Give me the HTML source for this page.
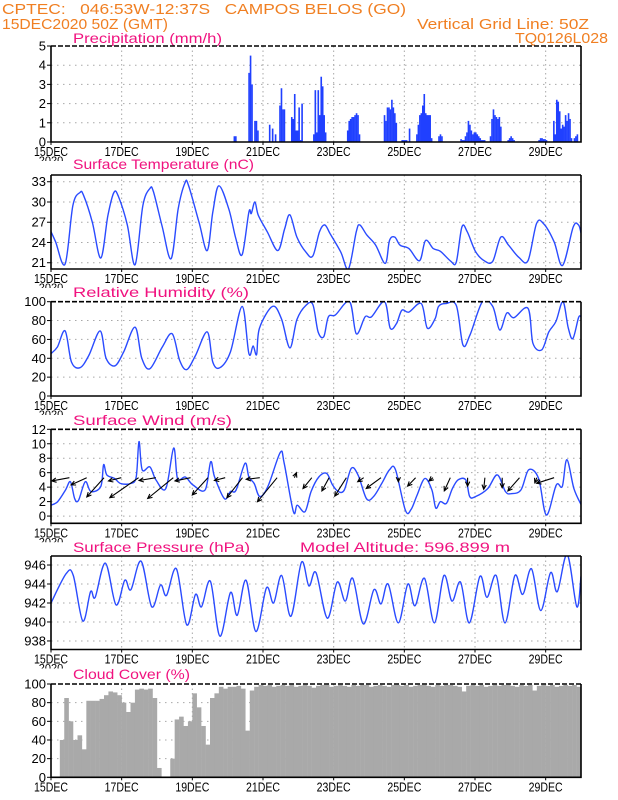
<!DOCTYPE html>
<html><head><meta charset="utf-8"><style>
html,body{margin:0;padding:0;background:#fff;width:618px;height:800px;overflow:hidden}
svg{display:block}
text{font-family:"Liberation Sans",sans-serif}
</style></head><body>
<svg id="chart" width="618" height="800" viewBox="0 0 618 800" xmlns="http://www.w3.org/2000/svg">
<text x="2" y="14" font-size="15" fill="#f07f22" textLength="404" lengthAdjust="spacingAndGlyphs" xml:space="preserve">CPTEC:   046:53W-12:37S   CAMPOS BELOS (GO)</text>
<text x="2" y="29" font-size="15" fill="#f07f22" textLength="166" lengthAdjust="spacingAndGlyphs">15DEC2020 50Z (GMT)</text>
<text x="417" y="29" font-size="15" fill="#f07f22" textLength="172" lengthAdjust="spacingAndGlyphs">Vertical Grid Line: 50Z</text>
<text x="515" y="43" font-size="15" fill="#f07f22" textLength="93" lengthAdjust="spacingAndGlyphs">TQ0126L028</text>
<text x="73" y="43" font-size="14" fill="#f0127f" textLength="149" lengthAdjust="spacingAndGlyphs">Precipitation (mm/h)</text>
<text x="73" y="169" font-size="14" fill="#f0127f" textLength="181" lengthAdjust="spacingAndGlyphs">Surface Temperature (nC)</text>
<text x="73" y="297" font-size="14" fill="#f0127f" textLength="176" lengthAdjust="spacingAndGlyphs">Relative Humidity (%)</text>
<text x="73" y="425" font-size="14" fill="#f0127f" textLength="159" lengthAdjust="spacingAndGlyphs">Surface Wind (m/s)</text>
<text x="73" y="552" font-size="14" fill="#f0127f" textLength="177" lengthAdjust="spacingAndGlyphs">Surface Pressure (hPa)</text>
<text x="300" y="552" font-size="14" fill="#f0127f" textLength="210" lengthAdjust="spacingAndGlyphs">Model Altitude: 596.899 m</text>
<text x="73" y="679" font-size="14" fill="#f0127f" textLength="117" lengthAdjust="spacingAndGlyphs">Cloud Cover (%)</text>
</svg>
<script>
// ---------- DATA ----------
const dateLabels = ["15DEC","17DEC","19DEC","21DEC","23DEC","25DEC","27DEC","29DEC"];
const precipTicks = [0,1,2,3,4,5];
const tempTicks = [21,24,27,30,33];
const rhTicks = [0,20,40,60,80,100];
const windTicks = [0,2,4,6,8,10,12];
const presTicks = [938,940,942,944,946];
const cloudTicks = [0,20,40,60,80,100];

// precipitation: hourly runs (start hour, values)
const precipStart = [124,134,148,155,163,178,201,226,238,243,248,263,278,298,310,331,341];
const precipRuns = [
 [0.3,0.3],
 [3.6,4.5,3.0,0,1.1,1.1,0.6],
 [0.9,0,0.7,0,0.4],
 [1.9,2.8,1.7,1.7],
 [1.3,1.2,2.5,0.6,0.6,1.8,0.1,2.0],
 [0.4,2.7,0.5,2.7,1.4,3.4,2.9,1.4,0.5],
 [0.6,1.1,1.2,1.3,1.3,1.4,1.5,1.4,0.4],
 [1.4,1.1,1.8,1.8,1.7,2.2,1.8,1.5,1.0],
 [0.1,0.1,0.1,0.1],
 [0.7],
 [0.4,0.9,1.4,1.5,1.9,2.5,1.5,1.4,1.4,1.4,0.2],
 [0.3,0.4,0.3],
 [0.15,0.1,0.1,0.3,0.5,1.1,0.9,0.6,0.4,0.5,0.5,0.4,0.3,0.2,0.1,0.1,0.1],
 [0.3,1.2,1.7,1.4,1.3,1.2,1.3,0.8],
 [0.1,0.2,0.3,0.2,0.1],
 [0.1,0.2,0.2,0.15,0.15,0.1],
 [1.1,0.4,2.2,2.1,1.6,0.7,0.9,0.8,1.4,1.1,1.5,1.2,0.2,0,0.2,0.3,0.4]
];

const tempT = [0,0.13,0.4,0.62,0.82,0.92,1.17,1.41,1.61,1.78,1.91,2.16,2.38,2.6,2.8,2.9,3.15,3.4,3.6,3.79,3.89,4.19,4.42,4.58,4.75,5.03,5.23,5.41,5.6,5.67,5.77,5.87,6.12,6.42,6.61,6.76,6.96,7.21,7.41,7.6,7.75,7.9,8.2,8.42,8.64,8.74,8.94,9.19,9.46,9.58,9.73,9.88,10.13,10.43,10.6,10.82,11.02,11.32,11.47,11.63,11.78,12.01,12.26,12.5,12.73,12.95,13.24,13.5,13.74,13.94,14.24,14.48,14.78,14.93,15.0];
const tempV = [25.6,24.1,20.8,29.5,31.4,31.0,27,21.7,28,31.4,30.8,26.6,20.7,29.5,32,31.5,26.3,21.6,29,32.8,32.5,27,22.8,28.5,32.4,29,24.6,22.2,28.5,28.3,30,28,25.6,22.8,26,28.1,24.8,22.6,22,25.6,26.6,25.3,22.6,20.1,25.6,26.6,25.1,23.6,20.9,24.3,24.8,23.6,23.1,21.3,24.3,23.1,22.7,21.2,21.1,26.3,25.6,22.7,21.3,21.2,24.8,23.6,21.8,21.3,26.8,26.8,24.1,20.6,26.3,26.6,25.4];

const rhT = [0,0.18,0.4,0.58,0.82,1.07,1.39,1.56,1.81,2.06,2.38,2.57,2.8,3.15,3.43,3.64,3.84,4.09,4.42,4.58,4.78,5.08,5.41,5.6,5.72,5.82,5.9,6.27,6.52,6.76,6.96,7.21,7.41,7.56,7.72,7.85,8.05,8.45,8.64,8.89,9.07,9.44,9.6,9.78,9.93,10.13,10.48,10.65,10.87,10.97,11.17,11.47,11.66,11.86,12.21,12.5,12.7,12.9,13.1,13.5,13.64,13.89,14.09,14.29,14.49,14.64,14.77,14.93,15.0];
const rhV = [45,52,69,36,30,43,69,40,32,47,73,40,29,52,66,38,28,43,68,36,30,47,95,45,53,44,72,95,82,51,81,96,97,68,63,84,86,100,66,84,84,100,72,77,91,89,98,72,82,95,98,96,54,65,100,95,70,88,83,93,56,49,68,79,100,72,61,83,84];

const windT = [0,0.19,0.41,0.55,0.67,0.78,0.97,1.13,1.41,1.49,1.58,1.8,1.97,2.25,2.41,2.49,2.58,2.8,2.97,3.25,3.47,3.58,3.8,4.02,4.36,4.52,4.63,4.91,5.08,5.24,5.49,5.6,5.75,5.91,6.14,6.49,6.6,6.86,6.97,7.19,7.36,7.58,7.8,7.97,8.13,8.3,8.5,8.69,8.93,9.13,9.36,9.58,9.75,10.03,10.19,10.36,10.58,10.78,10.89,11.02,11.19,11.36,11.52,11.74,11.85,12.02,12.36,12.63,12.86,13.02,13.3,13.52,13.8,14.02,14.3,14.47,14.6,14.8,15.0];
const windV = [1.5,2,3.6,4.75,2.4,2.2,4.75,3.4,4.1,7.1,5.7,5.2,4.5,4.5,5.4,10.3,6.4,6.8,5,3.8,9.4,5.2,5.4,4.3,3.6,7.5,5.4,2.4,3.4,3.6,7.3,5.4,4.5,2.7,4.1,8.8,7.3,0.6,1.5,0.6,3.4,5.4,5.9,4.3,3.4,3.6,6.6,5.7,2.4,2.7,4.5,6.4,6.4,0.8,0.9,2.9,5.2,3.6,1.1,2,1.75,3.8,5,5,2.7,2.7,3.8,5.7,3.4,3.1,3.6,6.4,5.2,0.15,4.3,4.1,7.8,3.8,1.6];
const arrowU = [-4.4,-3.9,-4.3,-3.2,-7.2,-4.2,-6.4,-3.9,-3.9,-2.7,-3.9,-3.4,-4.9,0.5,-2.2,-1.8,-2.9,-1.5,-3.7,0,-2.0,-1.0,-1.5,0,-0.3,0,-2.9,-0.5,-4.4];
const arrowV = [-0.8,-1.8,-4.8,-0.8,-5.0,-0.7,-5.2,-0.8,-4.3,-0.7,-5.0,-0.4,-6.0,1.25,-2.7,-3.3,-4.6,-1.0,-2.7,-1.0,-2.1,-0.8,-3.3,-2.1,-2.9,-2.5,-3.3,-1.25,-1.4];

const presT = [0,0.43,0.63,0.9,1.12,1.25,1.54,1.84,2.09,2.26,2.55,2.85,3.1,3.27,3.55,3.84,4.09,4.26,4.51,4.78,5.08,5.27,5.52,5.8,6.1,6.3,6.53,6.79,7.09,7.3,7.5,7.82,8.1,8.33,8.54,8.84,9.14,9.34,9.54,9.83,10.1,10.3,10.57,10.85,11.12,11.35,11.59,11.84,12.14,12.34,12.6,12.85,13.13,13.35,13.6,13.86,14.14,14.33,14.61,14.88,15.0];
const presV = [942,945.1,944.9,940.1,943.2,942.6,946.2,941.8,944.4,943.4,946.4,941.6,943.9,942.8,945.6,939.7,942.9,941.6,944.3,938.5,943.1,940.7,944.4,939,943.6,942,944.9,940.6,946.3,943.8,945.2,940.4,944.2,942.2,944.6,939.8,943.4,941.9,944,939.9,944,941.7,944.6,939.9,944.9,942.2,944.2,939.9,944.8,942.6,944.9,939.9,944.9,942.9,945.6,941.2,945.2,943.2,947.1,941.6,944.8];

// cloud cover, 3-hourly
const cloudV = [0,0,40,85,60,40,45,30,82,82,82,84,88,92,91,88,80,70,80,94,95,94,95,85,10,0,0,20,62,65,55,60,90,75,55,35,85,90,97,95,97,97,98,95,50,93,97,99,98,99,97,98,99,98,99,97,98,99,98,96,98,99,99,97,98,99,98,97,99,98,99,99,97,98,99,98,97,99,99,98,99,97,98,99,99,98,97,99,98,99,99,98,97,92,98,99,98,99,97,98,99,98,99,99,98,97,99,98,99,93,98,99,98,99,97,98,99,98,99,97];

// ---------- DRAW ----------
const NS = "http://www.w3.org/2000/svg";
const svg = document.getElementById('chart');
const X0 = 51, X1 = 581, DAYS = 15;
function xOf(d){ return X0 + (X1 - X0) * d / DAYS; }
function mk(tag, attrs, parent){ const e = document.createElementNS(NS, tag); for (const k in attrs) e.setAttribute(k, attrs[k]); (parent||svg).appendChild(e); return e; }

const panels = [
 {key:'precip', top:46, bot:142, min:0, max:5, ticks:precipTicks, dashTop:true},
 {key:'temp', top:175, bot:269, min:20.07, max:34.0, ticks:tempTicks, dashTop:false},
 {key:'rh', top:301.7, bot:396, min:0, max:100, ticks:rhTicks, dashTop:true},
 {key:'wind', top:429.3, bot:523.3, min:-1, max:12, ticks:windTicks, dashTop:true},
 {key:'pres', top:556, bot:649.5, min:937.1, max:946.95, ticks:presTicks, dashTop:false},
 {key:'cloud', top:684, bot:777.3, min:0, max:100, ticks:cloudTicks, dashTop:true}
];
panels.forEach(p => { p.y = v => p.bot - (v - p.min) / (p.max - p.min) * (p.bot - p.top); });

function smoothPath(ts, vs, p){
  const pts = ts.map((t,i)=>[xOf(t), p.y(vs[i])]);
  let d = 'M' + pts[0][0].toFixed(1) + ',' + pts[0][1].toFixed(1);
  for (let i=0;i<pts.length-1;i++){
    const p0 = pts[Math.max(0,i-1)], p1 = pts[i], p2 = pts[i+1], p3 = pts[Math.min(pts.length-1,i+2)];
    const c1x = p1[0] + (p2[0]-p0[0])/6, c1y = p1[1] + (p2[1]-p0[1])/6;
    const c2x = p2[0] - (p3[0]-p1[0])/6, c2y = p2[1] - (p3[1]-p1[1])/6;
    d += ' C' + c1x.toFixed(1)+','+c1y.toFixed(1)+' '+c2x.toFixed(1)+','+c2y.toFixed(1)+' '+p2[0].toFixed(1)+','+p2[1].toFixed(1);
  }
  return d;
}

panels.forEach(p => {
  const g = mk('g', {});
  
  
  const clipId = 'clip-' + p.key;
  const cp = mk('clipPath', {id: clipId}, g);
  mk('rect', {x:X0, y:p.top, width:X1-X0, height:p.bot-p.top}, cp);
  // horizontal grid
  p.ticks.forEach(v => {
    const yy = p.y(v);
    if (Math.abs(yy - p.top) > 1 && Math.abs(yy - p.bot) > 1) {
      const gl = mk('line', {x1:X0, x2:X1, y1:yy, y2:yy, stroke:'#a8a8a8', 'stroke-width':1, 'stroke-dasharray':'1.5 4.5'}, g);
      
      
    }
    const tk = mk('line', {x1:X0-4, x2:X0, y1:yy, y2:yy, stroke:'#000', 'stroke-width':1}, g);
    
    
    const tl = mk('text', {x:X0-5, y:yy+4.5, 'font-size':13, 'text-anchor':'end', fill:'#000'}, g);
    
    
    tl.textContent = String(v);
  });
  // vertical grid + date labels
  dateLabels.forEach((lab, i) => {
    const xx = xOf(i*2);
    if (i > 0) {
      const vl = mk('line', {x1:xx, x2:xx, y1:p.top, y2:p.bot, stroke:'#a8a8a8', 'stroke-width':1, 'stroke-dasharray':'1.5 3'}, g);
      
      
    }
    const tk = mk('line', {x1:xx, x2:xx, y1:p.bot, y2:p.bot+3, stroke:'#000', 'stroke-width':1}, g);
    
    
    const dl = mk('text', {x:xx, y:p.bot+14, 'font-size':13, 'text-anchor':'middle', fill:'#000', textLength:34, lengthAdjust:'spacingAndGlyphs'}, g);
    
    
    dl.textContent = lab;
  });
  if (p.key !== 'cloud') {
    const yr = mk('text', {x:X0, y:p.bot+22, 'font-size':11, 'text-anchor':'middle', fill:'#000', 'clip-path':'inset(0 0 50% 0)'}, g);
    
    
    yr.textContent = '2020';
  }
  const marks = mk('g', {'clip-path':'url(#'+clipId+')'}, g);
  
  
  p.marks = marks;
  p.g = g;
});

function frame(p){
  const g = p.g;
  const b = mk('path', {d:'M'+X1+','+p.top+' V'+p.bot+' H'+X0+' V'+p.top, fill:'none', stroke:'#000', 'stroke-width':1.6}, g);
  
  
  const t = mk('line', {x1:X0, x2:X1, y1:p.top, y2:p.top, stroke:'#000', 'stroke-width':1.6}, g);
  if (p.dashTop) t.setAttribute('stroke-dasharray', '5 2');
  
  
}

// precipitation bars
(function(){
  const p = panels[0]; const bw = (X1-X0)/(DAYS*24);
  precipStart.forEach((h0, r) => {
    precipRuns[r].forEach((v, k) => {
      if (v <= 0) return;
      const x = xOf((h0 + k)/24), y = p.y(v);
      const rc = mk('rect', {x:x.toFixed(2), y:y.toFixed(2), width:(bw+0.15).toFixed(2), height:(p.bot-y).toFixed(2), fill:'#2040ff'}, p.marks);
      
      
    });
  });
  frame(p);
})();

function linePanel(idx, ts, vs, nm){
  const p = panels[idx];
  const ln = mk('path', {d:smoothPath(ts, vs, p), fill:'none', stroke:'#2a4bff', 'stroke-width':1.4}, p.marks);
  
  
  return p;
}
frame(linePanel(1, tempT, tempV, 'temperature-line'));
frame(linePanel(2, rhT, rhV, 'humidity-line'));
(function(){
  const p = linePanel(3, windT, windV, 'wind-speed-line');
  const SC = 4; // px per m/s
  arrowU.forEach((u, i) => {
    const t = 0.52 + 0.49*i;
    const x1 = xOf(t), y1 = p.y(5.3);
    const x2 = x1 + u*SC, y2 = y1 - arrowV[i]*SC;
    const ang = Math.atan2(y2-y1, x2-x1), L = 5;
    const a1x = x2 - L*Math.cos(ang-0.45), a1y = y2 - L*Math.sin(ang-0.45);
    const a2x = x2 - L*Math.cos(ang+0.45), a2y = y2 - L*Math.sin(ang+0.45);
    const ar = mk('path', {d:'M'+x1.toFixed(1)+','+y1.toFixed(1)+' L'+x2.toFixed(1)+','+y2.toFixed(1)+' M'+a1x.toFixed(1)+','+a1y.toFixed(1)+' L'+x2.toFixed(1)+','+y2.toFixed(1)+' L'+a2x.toFixed(1)+','+a2y.toFixed(1), fill:'none', stroke:'#000', 'stroke-width':1.1}, p.g);
    
    
  });
  frame(p);
})();
frame(linePanel(4, presT, presV, 'pressure-line'));
(function(){
  const p = panels[5]; const bw = (X1-X0)/(DAYS*8);
  cloudV.forEach((v, i) => {
    if (v <= 0) return;
    const x = xOf(i*3/24), y = p.y(v);
    const rc = mk('rect', {x:x.toFixed(2), y:y.toFixed(2), width:(bw+0.2).toFixed(2), height:(p.bot-y).toFixed(2), fill:'#a9a9a9'}, p.marks);
    
    
  });
  frame(p);
})();
</script>
</body></html>
